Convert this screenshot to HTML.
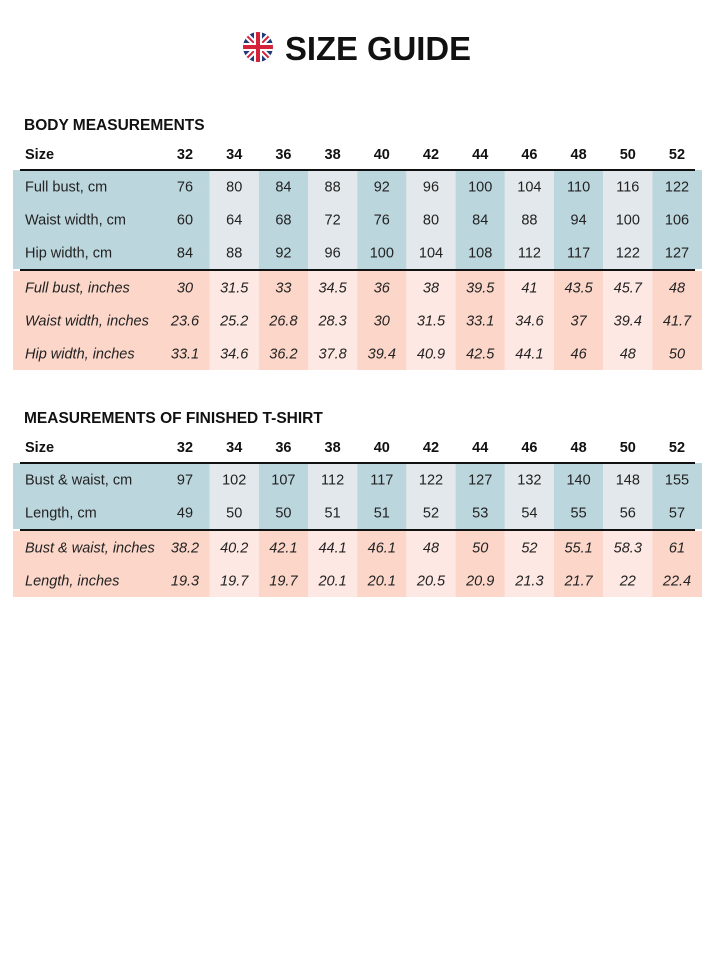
<!DOCTYPE html>
<html><head><meta charset="utf-8"><style>
body{margin:0;background:#fff;width:720px;height:960px;overflow:hidden}
svg{display:block;font-family:"Liberation Sans",sans-serif}
</style></head><body>
<svg id="chart" width="720" height="960" viewBox="0 0 720 960">
<g>
<defs><clipPath id="fc"><circle cx="258" cy="47" r="15"/></clipPath></defs>
<g clip-path="url(#fc)">
<rect x="243" y="32" width="30" height="30" fill="#233a7a"/>
<path d="M243 32L273 62M273 32L243 62" stroke="#fff" stroke-width="6"/>
<path d="M243 32L273 62M273 32L243 62" stroke="#d3223a" stroke-width="2"/>
<rect x="243" y="43" width="30" height="8" fill="#fff"/><rect x="254" y="32" width="8" height="30" fill="#fff"/>
<rect x="243" y="45" width="30" height="4" fill="#d3223a"/><rect x="256" y="32" width="4" height="30" fill="#d3223a"/>
</g></g>
<text x="285" y="60" font-size="33" font-weight="bold" textLength="186" lengthAdjust="spacingAndGlyphs" fill="#111">SIZE GUIDE</text>
<g id="tables"></g>
</svg>
<script>
const sizes=["32","34","36","38","40","42","44","46","48","50","52"];
const bodyCmLabels=["Full bust, cm","Waist width, cm","Hip width, cm"];
const bustCm=[76,80,84,88,92,96,100,104,110,116,122];
const waistCm=[60,64,68,72,76,80,84,88,94,100,106];
const hipCm=[84,88,92,96,100,104,108,112,117,122,127];
const bodyInLabels=["Full bust, inches","Waist width, inches","Hip width, inches"];
const bustIn=["30","31.5","33","34.5","36","38","39.5","41","43.5","45.7","48"];
const waistIn=["23.6","25.2","26.8","28.3","30","31.5","33.1","34.6","37","39.4","41.7"];
const hipIn=["33.1","34.6","36.2","37.8","39.4","40.9","42.5","44.1","46","48","50"];
const shirtCmLabels=["Bust & waist, cm","Length, cm"];
const shirtBustCm=[97,102,107,112,117,122,127,132,140,148,155];
const shirtLenCm=[49,50,50,51,51,52,53,54,55,56,57];
const shirtInLabels=["Bust & waist, inches","Length, inches"];
const shirtBustIn=["38.2","40.2","42.1","44.1","46.1","48","50","52","55.1","58.3","61"];
const shirtLenIn=["19.3","19.7","19.7","20.1","20.1","20.5","20.9","21.3","21.7","22","22.4"];

const NS="http://www.w3.org/2000/svg";
const g=document.getElementById('tables');
function mk(tag,attrs,parent){const e=document.createElementNS(NS,tag);for(const k in attrs)e.setAttribute(k,attrs[k]);(parent||g).appendChild(e);return e;}
const colX=i=>185+i*49.2;
const colL=i=>i===0?13:colX(i)-24.6;
const colR=i=>i===10?702:colX(i)+24.6;
const RH=33;

function block(top,labels,rows,dark,light,italic,name){
  const n=labels.length;
  for(let i=0;i<sizes.length;i++){
    const r=mk('rect',{x:colL(i),y:top,width:colR(i)-colL(i),height:n*RH,fill:i%2?light:dark});
    
    
  }
  for(let j=0;j<n;j++){
    const cy=top+RH*j+RH/2+5;
    const t=mk('text',{x:25,y:cy,'font-size':14.5,fill:'#222','font-style':italic?'italic':'normal'});
    t.textContent=labels[j];
    
    
    rows[j].forEach((v,i)=>{
      const c=mk('text',{x:colX(i),y:cy,'font-size':14.5,fill:'#222','text-anchor':'middle','font-style':italic?'italic':'normal'});
      c.textContent=v;
      
      
    });
  }
}
function table(titleY,title,cmLabels,cmRows,inLabels,inRows,name){
  const t=mk('text',{x:24,y:titleY,'font-size':15.5,'font-weight':'bold',fill:'#111'});
  t.textContent=title;
  
  
  const hy=titleY+29;
  const h=mk('text',{x:25,y:hy,'font-size':14.5,'font-weight':'bold',fill:'#111'});
  h.textContent='Size';
  
  
  sizes.forEach((s,i)=>{
    const e=mk('text',{x:colX(i),y:hy,'font-size':14.5,'font-weight':'bold',fill:'#111','text-anchor':'middle'});
    e.textContent=s;
    
    
  });
  const top1=titleY+40;
  block(top1,cmLabels,cmRows,'#bcd6dd','#e2e8eb',false,name+'-cm');
  const top2=top1+cmLabels.length*RH+2;
  block(top2,inLabels,inRows,'#fbd6c9','#fde8e3',true,name+'-inches');
  [top1,top2-1].forEach(y=>{
    const l=mk('line',{x1:20,x2:695,y1:y,y2:y,stroke:'#111','stroke-width':2});
    
    
  });
}
table(130,'BODY MEASUREMENTS',bodyCmLabels,[bustCm,waistCm,hipCm],bodyInLabels,[bustIn,waistIn,hipIn],'body-table');
table(423,'MEASUREMENTS OF FINISHED T-SHIRT',shirtCmLabels,[shirtBustCm,shirtLenCm],shirtInLabels,[shirtBustIn,shirtLenIn],'tshirt-table');
</script>
</body></html>
